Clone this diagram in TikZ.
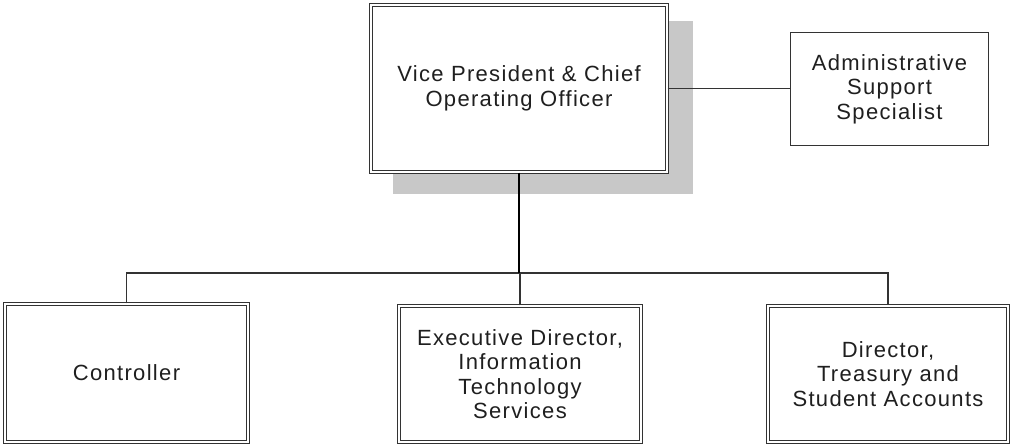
\documentclass[tikz,border=0pt]{standalone}
\usepackage{fontspec}
\setmainfont{Liberation Sans}[LetterSpace=6]
\definecolor{linegray}{HTML}{333333}
\definecolor{shadowgray}{HTML}{C8C8C8}
\begin{document}
\begin{tikzpicture}[x=1pt,y=1pt,
  every node/.style={font=\fontsize{22}{24.5}\selectfont, align=center, text=black!88},
  dblbox/.style={draw=linegray, double=white, double distance=2.2pt, line width=1.3pt, fill=white, inner sep=0pt},
  sglbox/.style={draw=linegray, line width=1.3pt, fill=white, inner sep=0pt},
  conn/.style={draw=linegray, line width=1.4pt},
  trunk/.style={draw=black, line width=2.6pt}]
\useasboundingbox (0,0) rectangle (1015,-447);
\fill[white] (0,0) rectangle (1015,-447);
\fill[shadowgray] (393,-21) rectangle (693,-194);
\node[dblbox, minimum width=296pt, minimum height=167pt] (top) at (519,-88.5) {Vice President \& Chief\\Operating Officer};
\node[sglbox, minimum width=198pt, minimum height=113pt] (admin) at (889.5,-89) {Administrative\\Support\\Specialist};
\node[dblbox, minimum width=243pt, minimum height=138pt] (ctrl) at (126.5,-373) {Controller};
\node[dblbox, minimum width=242pt, minimum height=136pt] (exec) at (520,-374) {Executive Director,\\Information\\Technology\\Services};
\node[dblbox, minimum width=240pt, minimum height=136pt] (dir) at (888,-374) {Director,\\Treasury and\\Student Accounts};
\coordinate (busL) at (126.5,-273);
\coordinate (busR) at (888,-273);
\draw[conn] (top.east) -- (top.east -| admin.west);
\draw[conn] (ctrl.north) -- (busL) -- (busR) -- (dir.north);
\draw[conn] (exec.north) -- (exec.north |- busL);
\draw[trunk] (top.south) -- (top.south |- busL);
\end{tikzpicture}
\end{document}
